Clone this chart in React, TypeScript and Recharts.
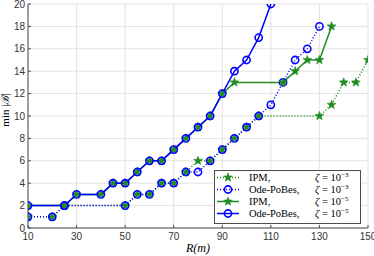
import { LineChart, Line, XAxis, YAxis, CartesianGrid } from 'recharts';

const ipm3 = [
  { x: 10, y: 1 }, { x: 20, y: 1 }, { x: 25, y: 2 }, { x: 50, y: 2 }, { x: 55, y: 3 },
  { x: 60, y: 3 }, { x: 65, y: 4 }, { x: 70, y: 4 }, { x: 75, y: 5 }, { x: 80, y: 6 },
  { x: 85, y: 6 }, { x: 90, y: 7 }, { x: 95, y: 8 }, { x: 100, y: 9 }, { x: 105, y: 10 },
  { x: 130, y: 10 }, { x: 135, y: 11 }, { x: 140, y: 13 }, { x: 145, y: 13 }, { x: 150, y: 15 },
];
const ode3 = [
  { x: 10, y: 1 }, { x: 20, y: 1 }, { x: 25, y: 2 }, { x: 50, y: 2 }, { x: 55, y: 3 },
  { x: 60, y: 3 }, { x: 65, y: 4 }, { x: 70, y: 4 }, { x: 75, y: 5 }, { x: 80, y: 5 },
  { x: 85, y: 6 }, { x: 90, y: 7 }, { x: 95, y: 8 }, { x: 100, y: 9 }, { x: 105, y: 10 },
  { x: 110, y: 11 }, { x: 115, y: 13 }, { x: 120, y: 15 }, { x: 125, y: 16 }, { x: 130, y: 18 },
];
const ipm5 = [
  { x: 10, y: 2 }, { x: 25, y: 2 }, { x: 30, y: 3 }, { x: 40, y: 3 }, { x: 45, y: 4 },
  { x: 50, y: 4 }, { x: 55, y: 5 }, { x: 60, y: 6 }, { x: 65, y: 6 }, { x: 70, y: 7 },
  { x: 75, y: 8 }, { x: 80, y: 9 }, { x: 85, y: 10 }, { x: 90, y: 12 }, { x: 95, y: 13 },
  { x: 115, y: 13 }, { x: 120, y: 14 }, { x: 125, y: 15 }, { x: 130, y: 15 }, { x: 135, y: 18 },
];
const ode5 = [
  { x: 10, y: 2 }, { x: 25, y: 2 }, { x: 30, y: 3 }, { x: 40, y: 3 }, { x: 45, y: 4 },
  { x: 50, y: 4 }, { x: 55, y: 5 }, { x: 60, y: 6 }, { x: 65, y: 6 }, { x: 70, y: 7 },
  { x: 75, y: 8 }, { x: 80, y: 9 }, { x: 85, y: 10 }, { x: 90, y: 12 }, { x: 95, y: 14 },
  { x: 100, y: 15 }, { x: 105, y: 17 }, { x: 110, y: 20 },
];

const xTicks = [10, 30, 50, 70, 90, 110, 130, 150];
const yTicks = [0, 2, 4, 6, 8, 10, 12, 14, 16, 18, 20];

const legendItems = [
  { name: 'IPM,', exp: '−3', color: '#228b22', dash: '1 2', marker: 'star' },
  { name: 'Ode-PoBes,', exp: '−3', color: '#0000ff', dash: '1 2', marker: 'circle' },
  { name: 'IPM,', exp: '−5', color: '#228b22', dash: undefined, marker: 'star' },
  { name: 'Ode-PoBes,', exp: '−5', color: '#0000ff', dash: undefined, marker: 'circle' },
];

const GREEN = '#228b22';
const BLUE = '#0000ff';
const AXIS = '#4d4d4d';
const SERIF = "'Liberation Serif', 'DejaVu Serif', serif";
const SANS = "'Liberation Sans', Arial, sans-serif";

function starPoints(cx: number, cy: number, r: number) {
  const pts: string[] = [];
  for (let i = 0; i < 10; i++) {
    const rad = i % 2 === 0 ? r : r * 0.42;
    const a = -Math.PI / 2 + (i * Math.PI) / 5;
    pts.push(`${cx + rad * Math.cos(a)},${cy + rad * Math.sin(a)}`);
  }
  return pts.join(' ');
}

function Star({ cx, cy, color }: { cx: number; cy: number; color: string }) {
  return <polygon points={starPoints(cx, cy, 4.6)} fill={color} stroke={color} strokeWidth={0.6} />;
}

function Ring({ cx, cy, color }: { cx: number; cy: number; color: string }) {
  return <circle cx={cx} cy={cy} r={3.6} fill="none" stroke={color} strokeWidth={1.6} />;
}

const starDot = (props: any) => <Star key={props.index} cx={props.cx} cy={props.cy} color={GREEN} />;
const ringDot = (props: any) => <Ring key={props.index} cx={props.cx} cy={props.cy} color={BLUE} />;

function LegendBox() {
  const w = 147;
  const h = 54;
  const rowY = [7.5, 19.5, 31.5, 43.5];
  return (
    <svg width={w} height={h} style={{ display: 'block' }}>
      <rect x={0.5} y={0.5} width={w - 1} height={h - 1} fill="white" stroke={AXIS} strokeWidth={1} />
      {legendItems.map((it, i) => (
        <g key={i}>
          <line x1={3} x2={25} y1={rowY[i]} y2={rowY[i]} stroke={it.color} strokeWidth={1.5} strokeDasharray={it.dash} />
          {it.marker === 'star' ? (
            <Star cx={14} cy={rowY[i]} color={it.color} />
          ) : (
            <Ring cx={14} cy={rowY[i]} color={it.color} />
          )}
          <text x={35} y={rowY[i] + 3.5} fontFamily={SERIF} fontSize={10.5} fill="#000">
            {it.name}
          </text>
          <text x={101} y={rowY[i] + 3.5} fontFamily={SERIF} fontSize={10.5} fill="#000">
            <tspan fontStyle="italic">ζ</tspan>
            <tspan> = 10</tspan>
            <tspan fontSize={7} dy={-4}>{it.exp}</tspan>
          </text>
        </g>
      ))}
    </svg>
  );
}

const yLabel = () => (
  <text x={9} y={110} transform="rotate(-90 9 110)" textAnchor="middle" fontFamily={SERIF} fontSize={11} fill="#000">
    <tspan>min |</tspan>
    <tspan fontStyle="italic">ℬ</tspan>
    <tspan>|</tspan>
  </text>
);

const xLabel = () => (
  <text x={198} y={252} textAnchor="middle" fontFamily={SERIF} fontStyle="italic" fontSize={12} fill="#000">
    R(m)
  </text>
);

export default function App() {
  return (
    <div style={{ position: 'absolute', left: 0, top: 0, width: 374, height: 256, background: '#fff' }}>
      <LineChart width={374} height={256} margin={{ top: 4, right: 6, bottom: 0, left: 0 }}>
        <CartesianGrid stroke="#e3e3e3" strokeWidth={1} />
        <XAxis
          dataKey="x"
          type="number"
          domain={[10, 150]}
          ticks={xTicks}
          interval={0}
          allowDataOverflow
          height={28}
          stroke={AXIS}
          tickSize={-3}
          tickMargin={8}
          tick={{ fontSize: 10, fill: '#333', fontFamily: SANS }}
          label={xLabel}
        />
        <XAxis xAxisId="top" orientation="top" dataKey="x" type="number" domain={[10, 150]} ticks={xTicks}
          interval={0} height={0} stroke={AXIS} tickSize={-3} tick={false} />
        <YAxis
          type="number"
          domain={[0, 20]}
          ticks={yTicks}
          interval={0}
          allowDataOverflow
          width={28}
          stroke={AXIS}
          tickSize={-3}
          tickMargin={6}
          tick={{ fontSize: 10, fill: '#333', fontFamily: SANS }}
          label={yLabel}
        />
        <YAxis yAxisId="right" orientation="right" domain={[0, 20]} ticks={yTicks} interval={0} width={0}
          stroke={AXIS} tickSize={-3} tick={false} />
        <Line data={ipm3} dataKey="y" stroke={GREEN} strokeWidth={1.5} strokeDasharray="1 2"
          dot={starDot} isAnimationActive={false} />
        <Line data={ode3} dataKey="y" stroke={BLUE} strokeWidth={1.5} strokeDasharray="1 2"
          dot={ringDot} isAnimationActive={false} />
        <Line data={ipm5} dataKey="y" stroke={GREEN} strokeWidth={1.5} dot={starDot} isAnimationActive={false} />
        <Line data={ode5} dataKey="y" stroke={BLUE} strokeWidth={1.5} dot={ringDot} isAnimationActive={false} />
      </LineChart>
      <div style={{ position: 'absolute', left: 214, top: 170 }}>
        <LegendBox />
      </div>
    </div>
  );
}
